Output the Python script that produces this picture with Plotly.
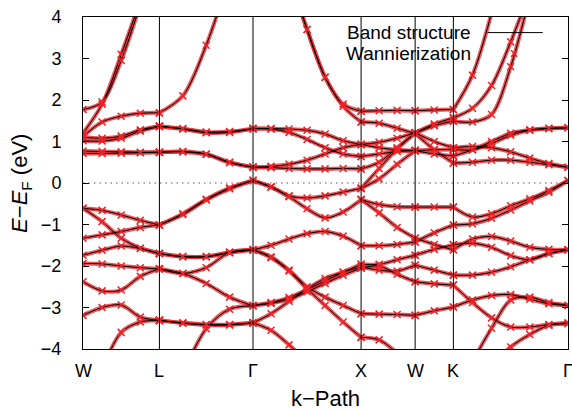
import numpy as np
import plotly.graph_objects as go

# high-symmetry points along the fcc path (units of 2*pi/a)
kpath_labels = ["W", "L", "Γ", "X", "W", "K", "Γ"]
kpath_pos = [0.0, 0.7071, 1.5731, 2.5731, 3.0731, 3.4267, 4.4874]

# band energies (eV, relative to E_F) sampled evenly along each segment
WL_bands = [
    [1.77, 1.95, 2.95, 4.3, None],
    [1.20, 1.90, 3.10, 4.4, None],
    [1.12, 1.47, 1.61, 1.68, 1.69],
    [1.10, 1.08, 1.13, 1.28, 1.37],
    [1.02, 1.01, 1.08, 1.25, 1.36],
    [0.77, 0.76, 0.75, 0.74, 0.74],
    [0.71, 0.71, 0.72, 0.73, 0.74],
    [-0.61, -0.66, -0.77, -0.90, -1.01],
    [-0.61, -0.93, -1.33, -1.57, -1.70],
    [-1.33, -1.25, -1.17, -1.07, -1.01],
    [-1.74, -1.62, -1.52, -1.58, -1.70],
    [-1.94, -1.95, -2.00, -2.04, -2.07],
    [-2.38, -2.60, -2.58, -2.25, -2.07],
    [-3.19, -3.00, -2.94, -3.23, -3.31],
    [None, -4.5, -3.6, -3.35, -3.31],
]
LG_bands = [
    [1.69, 2.10, 3.32, 5.0, None],
    [1.37, 1.30, 1.21, 1.22, 1.31],
    [1.36, 1.31, 1.23, 1.24, 1.31],
    [0.74, 0.76, 0.70, 0.50, 0.38],
    [0.74, 0.75, 0.69, 0.49, 0.38],
    [-1.01, -0.74, -0.39, -0.12, 0.06],
    [-1.01, -0.76, -0.41, -0.14, 0.06],
    [-1.70, -1.78, -1.78, -1.68, -1.61],
    [-1.70, -1.77, -1.77, -1.67, -1.61],
    [-2.07, -2.18, -2.04, -1.67, -1.61],
    [-2.07, -2.18, -2.42, -2.75, -2.96],
    [-3.31, -3.37, -3.41, -3.41, -3.37],
    [-3.31, -3.38, -3.42, -3.42, -3.37],
    [None, -4.6, -3.51, -3.04, -2.96],
]
GX_bands = [
    [None, None, 5.0, 3.7, 2.55, 1.90, 1.73],
    [None, None, 5.0, 3.7, 2.55, 1.85, 1.47],
    [1.31, 1.31, 1.30, 1.27, 1.18, 1.02, 0.93],
    [1.31, 1.30, 1.22, 1.05, 0.85, 0.70, 0.64],
    [0.38, 0.40, 0.45, 0.55, 0.70, 0.85, 0.93],
    [0.38, 0.37, 0.35, 0.34, 0.34, 0.35, 0.34],
    [0.06, -0.09, -0.31, -0.36, -0.31, -0.22, -0.13],
    [0.06, -0.10, -0.33, -0.62, -0.84, -0.70, -0.40],
    [-1.61, -1.50, -1.35, -1.22, -1.17, -1.28, -1.51],
    [-1.61, -1.80, -2.12, -2.55, -2.95, -3.35, -3.72],
    [-1.61, -1.78, -2.10, -2.50, -2.75, -2.95, -3.15],
    [-2.95, -2.88, -2.76, -2.57, -2.36, -2.15, -1.96],
    [-2.95, -2.90, -2.80, -2.62, -2.42, -2.22, -2.05],
    [-3.37, -3.15, -2.85, -2.55, -2.30, -2.15, -2.02],
    [-3.37, -3.55, -3.90, -4.3, None, None, None],
]
XW_bands = [
    [1.73, 1.74, 1.75, 1.74],
    [1.47, 1.44, 1.32, 1.19],
    [0.93, 0.98, 1.08, 1.21],
    [0.93, 0.85, 0.80, 0.78],
    [0.64, 0.70, 0.76, 0.78],
    [0.34, 0.50, 0.85, 1.21],
    [-0.13, 0.35, 0.82, 1.20],
    [-0.13, 0.10, 0.45, 0.78],
    [-0.40, -0.52, -0.57, -0.58],
    [-0.40, -0.72, -1.07, -1.33],
    [-1.51, -1.51, -1.48, -1.42],
    [-1.96, -1.96, -1.85, -1.74],
    [-2.02, -2.10, -2.12, -1.98],
    [-2.05, -2.00, -2.20, -2.38],
    [-3.15, -3.16, -3.17, -3.19],
    [-3.72, -3.78, -4.1, None],
]
WK_bands = [
    [1.74, 1.76, 1.77],
    [1.21, 1.42, 1.57],
    [1.20, 1.38, 1.49],
    [1.21, 1.00, 0.85],
    [0.78, 0.80, 0.81],
    [1.19, 0.80, 0.48],
    [0.78, 0.70, 0.65],
    [-0.58, -0.58, -0.58],
    [-1.33, -1.48, -1.61],
    [-1.42, -1.20, -1.01],
    [-1.74, -1.60, -1.49],
    [-1.98, -2.10, -2.22],
    [-2.38, -2.43, -2.46],
    [-3.19, -3.08, -2.99],
]
KG_bands = [
    [1.77, 2.6, 4.1, None, None, None, None],
    [1.57, 1.80, 2.35, 3.4, 4.6, None, None],
    [1.49, 1.47, 1.65, 2.8, 4.5, None, None],
    [0.81, 0.80, 0.95, 1.15, 1.27, 1.31, 1.33],
    [0.65, 0.80, 1.00, 1.20, 1.28, 1.32, 1.33],
    [0.85, 0.88, 0.85, 0.75, 0.60, 0.47, 0.38],
    [0.48, 0.50, 0.55, 0.55, 0.50, 0.44, 0.38],
    [-0.58, -0.82, -0.74, -0.55, -0.38, -0.18, 0.06],
    [-1.01, -0.98, -0.85, -0.65, -0.43, -0.22, 0.06],
    [-1.61, -1.35, -1.29, -1.40, -1.55, -1.60, -1.61],
    [-1.49, -1.45, -1.55, -1.75, -1.85, -1.70, -1.61],
    [-2.22, -2.22, -2.15, -2.02, -1.85, -1.70, -1.61],
    [-2.46, -2.88, -3.25, -3.47, -3.47, -3.41, -3.39],
    [-2.99, -2.82, -2.71, -2.69, -2.80, -2.91, -2.95],
    [None, -4.3, -3.50, -2.82, -2.75, -2.88, -2.95],
    [None, None, -4.4, -3.95, -3.65, -3.43, -3.37],
]

segments = [WL_bands, LG_bands, GX_bands, XW_bands, WK_bands, KG_bands]

xs, ys = [], []
for i, bands in enumerate(segments):
    k0, k1 = kpath_pos[i], kpath_pos[i + 1]
    for b in bands:
        kk = np.linspace(k0, k1, len(b))
        xs += [float(v) for v in kk] + [None]
        ys += list(b) + [None]

RED = "rgb(235,35,40)"
fig = go.Figure()
# Wannier-interpolated bands (dense red crosses appear as a fuzzy red band)
fig.add_trace(go.Scatter(x=xs, y=ys, mode="lines",
                         line=dict(color="rgba(235,40,45,0.8)", width=4.0, shape="spline", smoothing=0.9),
                         hoverinfo="skip", showlegend=False))
# DFT band structure
fig.add_trace(go.Scatter(x=xs, y=ys, mode="lines",
                         line=dict(color="black", width=1, shape="spline", smoothing=0.9),
                         hoverinfo="skip", showlegend=False))
fig.add_trace(go.Scatter(x=xs, y=ys, mode="markers",
                         marker=dict(symbol="x-thin", size=7, line=dict(color=RED, width=1.5)),
                         cliponaxis=True, hoverinfo="skip", showlegend=False))

shapes = []
for kp in kpath_pos[1:-1]:
    shapes.append(dict(type="line", xref="x", yref="y", x0=kp, x1=kp, y0=-4, y1=4,
                       line=dict(color="black", width=1)))
shapes.append(dict(type="line", xref="x", yref="y", x0=kpath_pos[0], x1=kpath_pos[-1], y0=0, y1=0,
                   line=dict(color="rgb(90,90,90)", width=1.2, dash="1.5px,4px"), layer="below"))
# legend samples
shapes.append(dict(type="line", xref="paper", yref="paper", x0=0.8346, x1=0.9479, y0=0.953, y1=0.953,
                   line=dict(color="black", width=1)))
shapes.append(dict(type="line", xref="paper", yref="paper", x0=0.8827, x1=0.8951, y0=0.880, y1=0.900,
                   line=dict(color=RED, width=1.4)))
shapes.append(dict(type="line", xref="paper", yref="paper", x0=0.8827, x1=0.8951, y0=0.900, y1=0.880,
                   line=dict(color=RED, width=1.4)))

FONT = "Liberation Sans, Arial, Helvetica, sans-serif"
annotations = [
    dict(text="Band structure", xref="paper", yref="paper", x=0.8038, y=0.953,
         xanchor="right", yanchor="middle", showarrow=False, font=dict(size=19, color="black")),
    dict(text="Wannierization", xref="paper", yref="paper", x=0.8038, y=0.8897,
         xanchor="right", yanchor="middle", showarrow=False, font=dict(size=19, color="black")),
    dict(text="k−Path", xref="paper", yref="paper", x=0.5, y=-0.150,
         xanchor="center", yanchor="middle", showarrow=False, font=dict(size=22, color="black")),
    dict(text="<i>E</i>−<i>E</i><sub>F</sub> (eV)", xref="paper", yref="paper", x=-0.128, y=0.5,
         xanchor="center", yanchor="middle", textangle=-90, showarrow=False,
         font=dict(size=22, color="black")),
]
# k-point labels below the axis
for kp, lab in zip(kpath_pos, kpath_labels):
    annotations.append(dict(text=lab, xref="x", yref="paper", x=kp, y=-0.065,
                            xanchor="center", yanchor="middle", showarrow=False,
                            font=dict(size=18, color="black")))

fig.update_layout(
    width=572, height=412,
    margin=dict(l=83, r=4, t=17, b=63),
    paper_bgcolor="white", plot_bgcolor="white",
    font=dict(family=FONT, size=18, color="black"),
    shapes=shapes, annotations=annotations,
    showlegend=False,
)
fig.update_xaxes(range=[kpath_pos[0], kpath_pos[-1]], showticklabels=False,
                 ticks="", showgrid=False, zeroline=False, showline=True, linecolor="black",
                 linewidth=1, mirror=True)
fig.update_yaxes(range=[-4, 4], dtick=1, ticks="inside", ticklen=6, tickcolor="black",
                 showgrid=False, zeroline=False, showline=True, linecolor="black", linewidth=1,
                 mirror="ticks", tickfont=dict(size=18), ticklabelstandoff=17)

fig.write_html("out.html")
